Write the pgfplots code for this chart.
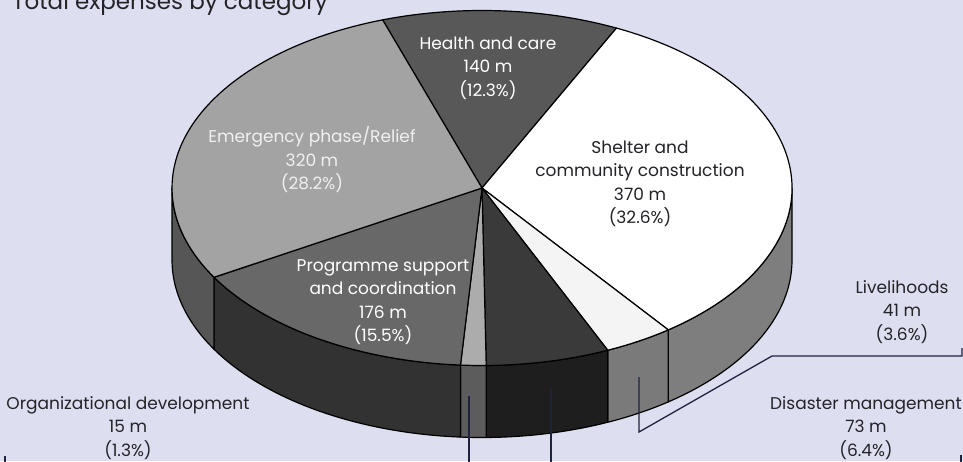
\documentclass[border=0pt]{standalone}
\usepackage{pgfplots}
\pgfplotsset{compat=1.18}
\usepackage{pgfplotstable}
\usepackage{fontspec}
\setmainfont{Poppins}
\definecolor{bg}{RGB}{221,223,241}
\definecolor{lead}{RGB}{30,34,60}
\definecolor{txt}{RGB}{35,35,40}
% top colours
\definecolor{tHealth}{RGB}{88,88,88}
\definecolor{tShelter}{RGB}{255,255,255}
\definecolor{tLive}{RGB}{244,244,244}
\definecolor{tDis}{RGB}{58,58,58}
\definecolor{tOrg}{RGB}{172,172,172}
\definecolor{tProg}{RGB}{104,104,104}
\definecolor{tEmer}{RGB}{163,163,163}
% side colours
\definecolor{sShelter}{RGB}{126,126,126}
\definecolor{sLive}{RGB}{122,122,122}
\definecolor{sDis}{RGB}{30,30,30}
\definecolor{sOrg}{RGB}{92,92,92}
\definecolor{sProg}{RGB}{50,50,50}
\definecolor{sEmer}{RGB}{86,86,86}

\pgfplotstableread{
label value
Health 140
Shelter 370
Livelihoods 41
Disaster 73
Org 15
Programme 176
Emergency 320
}\pietable

\newcommand\pietop[3]{\filldraw[fill=#3, draw=black, line width=1.2pt, line join=round] (482,273) -- ++(#1:310pt and 177.5pt) arc[start angle=#1, end angle=#2, x radius=310pt, y radius=177.5pt] -- cycle;}
\newcommand\pieside[3]{\filldraw[fill=#3, draw=black, line width=1.2pt, line join=round] (482,273) ++(#1:310pt and 177.5pt) arc[start angle=#1, end angle=#2, x radius=310pt, y radius=177.5pt] -- ++(0pt,-72pt) arc[start angle=#2, end angle=#1, x radius=310pt, y radius=177.5pt] -- cycle;}

\begin{document}
\pgfmathsetmacro{\cum}{108.7}%
\xdef\angi{\cum}%
\pgfplotsforeachungrouped \i in {0,...,6}{%
  \pgfplotstablegetelem{\i}{value}\of\pietable
  \pgfmathsetmacro{\cum}{\cum-\pgfplotsretval*0.3171806}%
  \pgfmathtruncatemacro{\j}{\i+2}%
  \expandafter\xdef\csname ang\romannumeral\j\endcsname{\cum}%
}%
\begin{tikzpicture}
\begin{axis}[hide axis, x=1pt, y=1pt, xmin=0, xmax=963, ymin=0, ymax=461, clip=true]
\fill[bg] (0,0) rectangle (963,461);
% sides (front half)
\pieside{0}{\angiii}{sShelter}
\pieside{\angiii}{\angiv}{sLive}
\pieside{\angiv}{\angv}{sDis}
\pieside{\angv}{\angvi}{sOrg}
\pieside{\angvi}{\angvii}{sProg}
\pieside{\angvii}{-180}{sEmer}
% top face
\pietop{\angi}{\angii}{tHealth}
\pietop{\angii}{\angiii}{tShelter}
\pietop{\angiii}{\angiv}{tLive}
\pietop{\angiv}{\angv}{tDis}
\pietop{\angv}{\angvi}{tOrg}
\pietop{\angvi}{\angvii}{tProg}
\pietop{\angvii}{\angviii}{tEmer}
% title
\node[anchor=base west, font=\fontsize{23}{27}\selectfont, text=txt, inner sep=0pt] at (12,451) {Total expenses by category};
% labels
\begin{scope}[every node/.style={align=center, font=\fontsize{17}{23.5}\selectfont, inner sep=0pt}]
\node[text=white] at (488,393) {Health and care\\140 m\\(12.3\%)};
\node[text=white!94!black] at (312,301) {Emergency phase/Relief\\320 m\\(28.2\%)};
\node[text=txt] at (640,277) {Shelter and\\community construction\\370 m\\(32.6\%)};
\node[text=white] at (383,159) {Programme support\\and coordination\\176 m\\(15.5\%)};
\node[text=txt] at (902,149) {Livelihoods\\41 m\\(3.6\%)};
\node[text=txt] at (866,33) {Disaster management\\73 m\\(6.4\%)};
\node[text=txt] at (128,33) {Organizational development\\15 m\\(1.3\%)};
\end{scope}
% leader lines
\draw[lead, line width=1.3pt] (962,113) -- (962,105) -- (772,105) -- (639,29) -- (639,84);
\draw[lead, line width=1.3pt] (961,6) -- (961,-5);
\draw[lead, line width=1.3pt] (551,-5) -- (551,73);
\draw[lead, line width=1.3pt] (5,5) -- (5,-5);
\draw[lead, line width=1.3pt] (469,-5) -- (469,65);
\end{axis}
\pgfresetboundingbox
\useasboundingbox (current axis.south west) rectangle (current axis.north east);
\end{tikzpicture}
\end{document}
